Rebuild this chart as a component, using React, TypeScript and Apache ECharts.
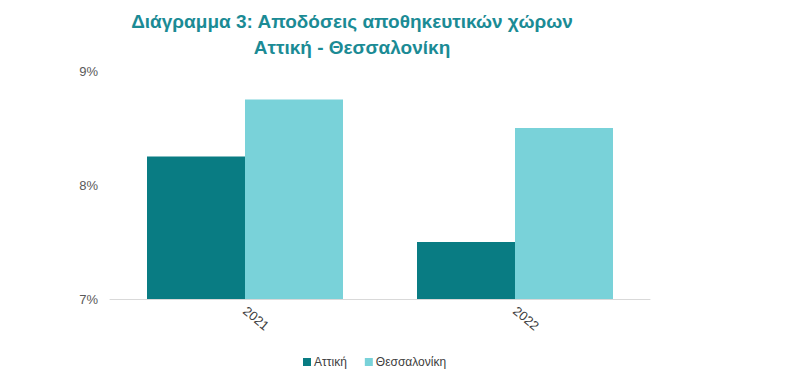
import React, { useEffect, useRef } from "react";
import * as echarts from "echarts";

const categories = ["2021", "2022"];
const attiki = [8.25, 7.5];
const thessaloniki = [8.75, 8.5];
const seriesNames = ["Αττική", "Θεσσαλονίκη"];
const titleLines = ["Διάγραμμα 3: Αποδόσεις αποθηκευτικών χώρων", "Αττική - Θεσσαλονίκη"];

export default function App() {
  const ref = useRef<HTMLDivElement>(null);
  useEffect(() => {
    if (!ref.current) return;
    const chart = echarts.init(ref.current, undefined, { renderer: "svg" });
    chart.setOption({
      animation: false,
      backgroundColor: "#ffffff",
      title: {
        text: titleLines.join("\n"),
        left: 347,
        top: 3,
        textAlign: "center",
        textStyle: {
          fontFamily: "Liberation Sans, Arial, sans-serif",
          fontSize: 19,
          fontWeight: "bold",
          color: "#1B8B95",
          lineHeight: 26,
          align: "center",
        },
      },
      legend: {
        data: seriesNames,
        left: 298,
        top: 351,
        icon: "rect",
        itemWidth: 8,
        itemHeight: 8,
        itemGap: 18,
        textStyle: {
          fontFamily: "Liberation Sans, Arial, sans-serif",
          fontSize: 12,
          color: "#404040",
          padding: [0, 0, 0, -2],
        },
      },
      grid: { left: 110, right: 155, top: 71, bottom: 83, containLabel: false },
      xAxis: {
        type: "category",
        data: categories,
        axisLine: { show: true, lineStyle: { color: "#D9D9D9", width: 1 } },
        axisTick: { show: false },
        axisLabel: {
          rotate: -40,
          margin: 10,
          fontFamily: "Liberation Sans, Arial, sans-serif",
          fontSize: 13,
          color: "#404040",
        },
      },
      yAxis: {
        type: "value",
        min: 7,
        max: 9,
        interval: 1,
        splitLine: { show: false },
        axisLine: { show: false },
        axisTick: { show: false },
        axisLabel: {
          formatter: "{value}%",
          margin: 12,
          fontFamily: "Liberation Sans, Arial, sans-serif",
          fontSize: 13,
          color: "#595959",
        },
      },
      series: [
        {
          name: seriesNames[0],
          type: "bar",
          data: attiki,
          barWidth: 98,
          barGap: "0%",
          itemStyle: { color: "#097C83" },
        },
        {
          name: seriesNames[1],
          type: "bar",
          data: thessaloniki,
          barWidth: 98,
          barGap: "0%",
          itemStyle: { color: "#79D2D9" },
        },
      ],
    });
    return () => chart.dispose();
  }, []);
  return <div ref={ref} style={{ width: 805, height: 382, margin: -8 }} />;
}
